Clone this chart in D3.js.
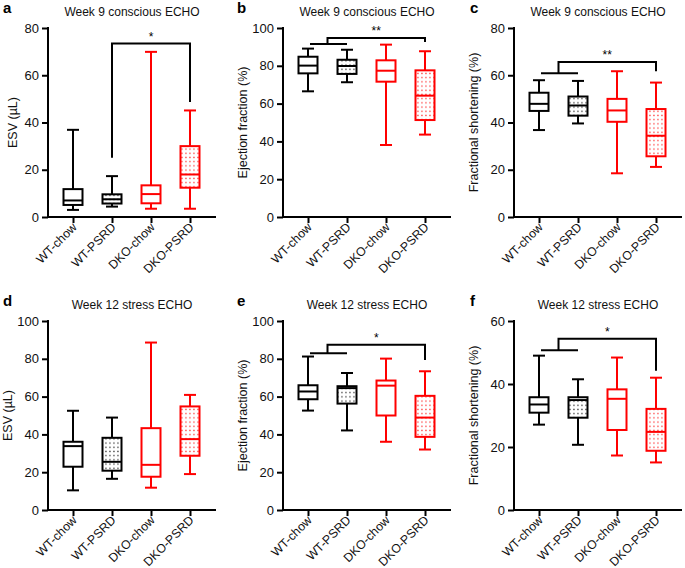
<!DOCTYPE html>
<html>
<head>
<meta charset="utf-8">
<script src="https://cdn.jsdelivr.net/npm/d3@7/dist/d3.min.js"></script>
<style>
  body { margin: 0; background: #fff; }
  svg { display: block; font-family: "Liberation Sans", Arial, Helvetica, sans-serif; }
</style>
</head>
<body>
<svg id="chart" width="685" height="568"></svg>
<script>
// ---- data ----
const categories = ["WT-chow", "WT-PSRD", "DKO-chow", "DKO-PSRD"];
const groupColors = ["#000000", "#000000", "#ff0000", "#ff0000"];
const groupDotted = [false, true, false, true];

// five-number summaries [min, q1, median, q3, max]
const esvWeek9 = [[3, 5.1, 7, 11.8, 36.9], [4.4, 5.7, 7.5, 9.6, 17.3], [3.5, 5.8, 9.7, 13.4, 69.9], [3.5, 12.4, 18, 30, 45.1]];
const efWeek9 = [[66.5, 76, 80.1, 84.8, 89.1], [71.3, 75.7, 79.9, 83.2, 88.5], [38.1, 71.6, 77.4, 82.9, 91.2], [43.6, 51.3, 64.2, 77.6, 87.7]];
const fsWeek9 = [[36.8, 44.9, 47.9, 52.6, 57.9], [39.6, 42.9, 47.2, 51, 57.6], [18.5, 40.3, 45.1, 50, 61.7], [21.2, 25.7, 34.4, 45.7, 56.9]];
const esvWeek12 = [[10.4, 22.9, 33.8, 36.1, 52.5], [16.5, 20.8, 25.5, 38.2, 48.9], [11.8, 17.6, 23.9, 43.3, 88.6], [19, 28.7, 37.5, 54.8, 60.9]];
const efWeek12 = [[52.6, 58.6, 62.7, 66, 81.2], [42.1, 56.3, 64.5, 65.5, 72.5], [36.1, 50, 65.8, 68.5, 80.1], [32, 38.7, 48.9, 60.4, 73.4]];
const fsWeek12 = [[27.1, 30.9, 33.5, 35.8, 49], [20.7, 29.3, 34.9, 35.8, 41.5], [17.3, 25.4, 35.3, 38.3, 48.4], [15.1, 18.8, 24.8, 32.1, 42]];

const yMaxes = [80, 100, 80, 100, 100, 60];
const yTicks = [[0, 20, 40, 60, 80], [0, 20, 40, 60, 80, 100], [0, 20, 40, 60, 80],
                [0, 20, 40, 60, 80, 100], [0, 20, 40, 60, 80, 100], [0, 20, 40, 60]];
const panelLetters = ["a", "b", "c", "d", "e", "f"];
const panelTitles = ["Week 9 conscious ECHO", "Week 9 conscious ECHO", "Week 9 conscious ECHO",
                     "Week 12 stress ECHO", "Week 12 stress ECHO", "Week 12 stress ECHO"];
const yLabels = ["ESV (\u00b5L)", "Ejection fraction (%)", "Fractional shortening (%)",
                 "ESV (\u00b5L)", "Ejection fraction (%)", "Fractional shortening (%)"];
// significance: [lowerBar(WT-chow..WT-PSRD) or null, bracketTop, leftLegEnd, rightLegEnd, label]
const sigA = [null, 73.4, 25.1, 48.7, "*"];
const sigB = [91.5, 94.7, 91.5, 92.6, "**"];
const sigC = [60.8, 65.6, 60.8, 61.7, "**"];
const sigD = null;
const sigE = [82.9, 87.5, 82.9, 79.4, "*"];
const sigF = [50.7, 54.4, 50.7, 44.2, "*"];

const panelData = [esvWeek9, efWeek9, fsWeek9, esvWeek12, efWeek12, fsWeek12];
const panelSig = [sigA, sigB, sigC, sigD, sigE, sigF];

// ---- layout ----
const svg = d3.select("#chart");
const colX = [48, 283, 514];
const rowY = [[28, 217], [321, 510]];
const letterX = [3, 237, 470];

const defs = svg.append("defs");
["#000000", "#ff0000"].forEach((c, i) => {
  const p = defs.append("pattern").attr("id", "dots" + i)
    .attr("patternUnits", "userSpaceOnUse").attr("width", 4).attr("height", 4.2);
  p.append("rect").attr("x", 1.3).attr("y", 1.4).attr("width", 1.3).attr("height", 1.3).attr("fill", c).attr("opacity", 0.8);
});

panelData.forEach((data, pi) => {
  const col = pi % 3, row = Math.floor(pi / 3);
  const x0 = colX[col];
  const [yTop, yBot] = rowY[row];
  const g = svg.append("g");

  const y = d3.scaleLinear().domain([0, yMaxes[pi]]).range([yBot, yTop]);
  const x = d3.scalePoint().domain(categories).range([x0 + 25, x0 + 142]);

  // boxes
  const boxW = 19, capW = 12;
  categories.forEach((cat, ci) => {
    const [mn, q1, md, q3, mx] = data[ci];
    const cx = x(cat);
    const col = groupColors[ci];
    const bg = g.append("g").attr("stroke", col).attr("stroke-width", 2).attr("fill", "none");
    bg.append("line").attr("x1", cx).attr("x2", cx).attr("y1", y(mx)).attr("y2", y(q3));
    bg.append("line").attr("x1", cx).attr("x2", cx).attr("y1", y(q1)).attr("y2", y(mn));
    bg.append("line").attr("x1", cx - capW / 2).attr("x2", cx + capW / 2).attr("y1", y(mx)).attr("y2", y(mx));
    bg.append("line").attr("x1", cx - capW / 2).attr("x2", cx + capW / 2).attr("y1", y(mn)).attr("y2", y(mn));
    bg.append("rect").attr("x", cx - boxW / 2).attr("y", y(q3)).attr("width", boxW).attr("height", y(q1) - y(q3))
      .attr("fill", groupDotted[ci] ? (col === "#000000" ? "url(#dots0)" : "url(#dots1)") : "#fff");
    bg.append("line").attr("x1", cx - boxW / 2).attr("x2", cx + boxW / 2).attr("y1", y(md)).attr("y2", y(md));
  });

  // axes
  const yAxis = d3.axisLeft(y).tickValues(yTicks[pi]).tickSize(6).tickPadding(3).tickSizeOuter(0);
  const ya = g.append("g").attr("transform", `translate(${x0},0)`).call(yAxis);
  ya.select(".domain").attr("stroke-width", 2).attr("d", `M0,${yBot + 1}V${yTop - 1}`);
  ya.selectAll(".tick line").attr("stroke-width", 2);
  ya.selectAll("text").attr("font-size", 13).attr("fill", "#111").attr("font-family", "Liberation Sans, Arial, sans-serif");

  const xAxis = d3.axisBottom(x).tickSize(6).tickSizeOuter(0).tickPadding(2);
  const xa = g.append("g").attr("transform", `translate(0,${yBot})`).call(xAxis);
  xa.select(".domain").attr("stroke-width", 2).attr("d", `M${x0 - 1},0H${x0 + 168}`);
  xa.selectAll(".tick line").attr("stroke-width", 2);
  xa.selectAll("text").attr("font-size", 12.3).attr("fill", "#111")
    .attr("font-family", "Liberation Sans, Arial, sans-serif")
    .attr("text-anchor", "end").attr("dy", null).attr("y", null)
    .attr("transform", "translate(4,11) rotate(-45)");

  // y label
  g.append("text").attr("transform", `translate(${x0 - (col === 0 ? (row === 0 ? 31 : 36) : 36)},${(yTop + yBot) / 2}) rotate(-90)`)
    .attr("text-anchor", "middle").attr("font-size", 12.5).attr("fill", "#111").text(yLabels[pi]);

  // title
  g.append("text").attr("x", x0 + 84).attr("y", yTop - 12).attr("text-anchor", "middle")
    .attr("font-size", 12).attr("fill", "#111").text(panelTitles[pi]);
  // panel letter
  g.append("text").attr("x", letterX[col]).attr("y", yTop - 15).attr("font-size", 15)
    .attr("font-weight", "bold").attr("fill", "#000").text(panelLetters[pi]);

  // significance
  const s = panelSig[pi];
  if (s) {
    const [low, top, leftEnd, rightEnd, lab] = s;
    const sg = g.append("g").attr("stroke", "#000").attr("stroke-width", 2).attr("fill", "none");
    let lx;
    if (low === null) {
      lx = x(categories[1]);
    } else {
      sg.append("line").attr("x1", x(categories[0]) + 2).attr("x2", x(categories[1])).attr("y1", y(low)).attr("y2", y(low));
      lx = (x(categories[0]) + x(categories[1])) / 2;
    }
    const rx = x(categories[3]);
    sg.append("path").attr("d", `M${lx},${y(leftEnd)}V${y(top)}H${rx}V${y(rightEnd)}`);
    g.append("text").attr("x", (lx + rx) / 2).attr("y", y(top) - 3).attr("text-anchor", "middle")
      .attr("font-size", 12).attr("fill", "#000").text(lab);
  }
});
</script>
</body>
</html>
